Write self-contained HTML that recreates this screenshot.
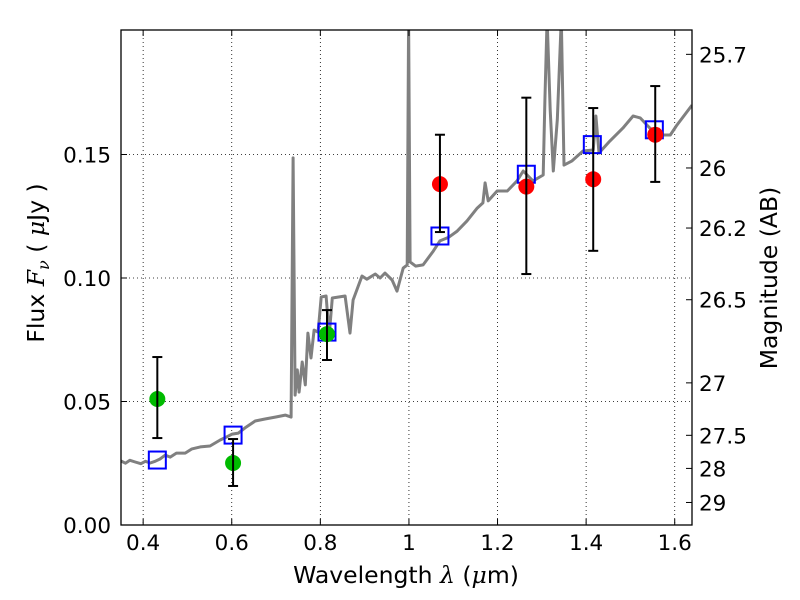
<!DOCTYPE html>
<html><head><meta charset="utf-8"><style>
html,body{margin:0;padding:0;background:#fff;}
svg{display:block;font-family:"DejaVu Sans","Liberation Sans",sans-serif;}
</style></head><body>
<svg id="chart" width="800" height="600" viewBox="0 0 800 600" xmlns="http://www.w3.org/2000/svg"></svg>
<script>
const specLam = [0.350,0.360,0.370,0.382,0.395,0.405,0.416,0.427,0.438,0.450,0.461,0.475,0.495,0.510,0.529,0.551,0.574,0.590,0.601,0.615,0.630,0.653,0.675,0.698,0.721,0.734,0.7386,0.743,0.748,0.752,0.759,0.766,0.772,0.779,0.786,0.795,0.802,0.813,0.820,0.827,0.856,0.867,0.874,0.894,0.905,0.924,0.935,0.946,0.962,0.973,0.987,0.996,0.9993,1.0027,1.015,1.032,1.055,1.070,1.090,1.109,1.131,1.154,1.167,1.172,1.179,1.199,1.222,1.244,1.258,1.280,1.303,1.307,1.312,1.319,1.326,1.335,1.344,1.350,1.368,1.393,1.416,1.422,1.429,1.454,1.483,1.506,1.522,1.544,1.567,1.590,1.605,1.639];
const specFlux = [0.0259,0.0250,0.0262,0.0255,0.0248,0.0258,0.0251,0.0258,0.0267,0.0283,0.0275,0.0291,0.0291,0.0308,0.0316,0.0320,0.0344,0.0358,0.0368,0.0372,0.0393,0.0421,0.0429,0.0437,0.0445,0.0437,0.1486,0.0526,0.0628,0.0538,0.0660,0.0567,0.0777,0.0676,0.0789,0.0781,0.0923,0.0927,0.0769,0.0919,0.0927,0.0777,0.0911,0.1008,0.0995,0.1016,0.1000,0.1020,0.0992,0.0947,0.1040,0.1053,0.205,0.1065,0.1048,0.1053,0.1109,0.1150,0.1165,0.1190,0.1231,0.1283,0.1304,0.1385,0.1312,0.1352,0.1352,0.1393,0.1433,0.1393,0.1417,0.172,0.205,0.168,0.1433,0.164,0.205,0.1457,0.1474,0.1514,0.1518,0.1656,0.1506,0.1555,0.1607,0.1656,0.1648,0.1607,0.1579,0.1579,0.1619,0.170];
const modelLam = [0.432,0.603,0.815,1.070,1.265,1.414,1.554];
const modelFlux = [0.0263,0.0364,0.0781,0.117,0.142,0.154,0.160];
const greenLam = [0.432,0.603,0.815];
const greenFlux = [0.0510,0.0251,0.0773];
const greenHi = [0.068,0.0348,0.087];
const greenLo = [0.0352,0.0158,0.0668];
const redLam = [1.070,1.265,1.416,1.556];
const redFlux = [0.138,0.137,0.140,0.158];
const redHi = [0.158,0.173,0.1688,0.1777];
const redLo = [0.1186,0.1016,0.111,0.1389];
const xTicks = [0.4,0.6,0.8,1.0,1.2,1.4,1.6];
const xTickLabels = ["0.4","0.6","0.8","1","1.2","1.4","1.6"];
const yTicks = [0,0.05,0.10,0.15];
const yTickLabels = ["0.00","0.05","0.10","0.15"];
const magTicks = [25.7,26,26.2,26.5,27,27.5,28,29];
const magTickLabels = ["25.7","26","26.2","26.5","27","27.5","28","29"];

const L=121,R=692,T=30,B=525;
const xMin=0.35,xMax=1.639,yMin=0,yMax=0.2004;
const X=v=>L+(v-xMin)/(xMax-xMin)*(R-L);
const Y=v=>B-(v-yMin)/(yMax-yMin)*(B-T);
const NS="http://www.w3.org/2000/svg";
const svg=document.getElementById('chart');
function mk(tag,attrs,parent){const e=document.createElementNS(NS,tag);for(const k in attrs)e.setAttribute(k,attrs[k]);(parent||svg).appendChild(e);return e;}

const defs=mk('defs',{});
const cp=mk('clipPath',{id:'clip'},defs);
mk('rect',{x:L,y:T,width:R-L,height:B-T},cp);

const grid=mk('g',{});


xTicks.forEach(v=>{mk('line',{x1:X(v),x2:X(v),y1:T,y2:B,stroke:'#000','stroke-width':0.8,'stroke-dasharray':'1,3'},grid);});
yTicks.forEach(v=>{mk('line',{x1:L,x2:R,y1:Y(v),y2:Y(v),stroke:'#000','stroke-width':0.8,'stroke-dasharray':'1,3'},grid);});

let d='';specLam.forEach((l,i)=>{d+=(i?'L':'M')+X(l).toFixed(1)+','+Y(specFlux[i]).toFixed(1);});
const spec=mk('path',{d:d,fill:'none',stroke:'#808080','stroke-width':3,'clip-path':'url(#clip)','stroke-linejoin':'round'});



modelLam.forEach((l,i)=>{
  const r=mk('rect',{x:X(l)-8.5,y:Y(modelFlux[i])-8.5,width:17,height:17,fill:'none',stroke:'#0000ff','stroke-width':2});
  
  
});
function errbar(l,lo,hi){
  const g=mk('g',{stroke:'#000','stroke-width':2});
  
  
  mk('line',{x1:X(l),x2:X(l),y1:Y(lo),y2:Y(hi)},g);
  mk('line',{x1:X(l)-5,x2:X(l)+5,y1:Y(lo),y2:Y(lo)},g);
  mk('line',{x1:X(l)-5,x2:X(l)+5,y1:Y(hi),y2:Y(hi)},g);
}
greenLam.forEach((l,i)=>{
  const c=mk('circle',{cx:X(l),cy:Y(greenFlux[i]),r:8,fill:'#00bb00'});
  
  
  errbar(l,greenLo[i],greenHi[i]);
});
redLam.forEach((l,i)=>{
  const c=mk('circle',{cx:X(l),cy:Y(redFlux[i]),r:8,fill:'#ff0000'});
  
  
  errbar(l,redLo[i],redHi[i]);
});

const frame=mk('rect',{x:L,y:T,width:R-L,height:B-T,fill:'none',stroke:'#000','stroke-width':1.3});



xTicks.forEach((v,i)=>{
  mk('line',{x1:X(v),x2:X(v),y1:B,y2:B-6,stroke:'#000'});
  mk('line',{x1:X(v),x2:X(v),y1:T,y2:T+6,stroke:'#000'});
  const t=mk('text',{x:X(v),y:B+25,'font-size':21.5,'text-anchor':'middle'});
  t.textContent=xTickLabels[i];
  
  
});
yTicks.forEach((v,i)=>{
  mk('line',{x1:L,x2:L+6,y1:Y(v),y2:Y(v),stroke:'#000'});
  const t=mk('text',{x:111,y:Y(v)+8,'font-size':21.5,'text-anchor':'end'});
  t.textContent=yTickLabels[i];
  
  
});
magTicks.forEach((m,i)=>{
  const f=Math.pow(10,-0.4*(m-23.9));
  mk('line',{x1:R,x2:R-6,y1:Y(f),y2:Y(f),stroke:'#000'});
  const t=mk('text',{x:699,y:Y(f)+8,'font-size':21.5,'text-anchor':'start'});
  t.textContent=magTickLabels[i];
  
  
});
</script>
<svg style="position:absolute;left:0;top:0" width="800" height="600">
<text x="406" y="583" font-size="23.5" text-anchor="middle" font-family="DejaVu Sans, sans-serif">Wavelength  <tspan font-style="italic" font-family="DejaVu Serif, serif">λ</tspan> (<tspan font-style="italic" font-family="DejaVu Serif, serif">μ</tspan>m)</text>
<text transform="translate(44,263) rotate(-90)" font-size="23.5" text-anchor="middle" font-family="DejaVu Sans, sans-serif">Flux  <tspan font-style="italic" font-family="DejaVu Serif, serif">F<tspan font-size="16" dy="5">ν</tspan></tspan><tspan dy="-5">  (  </tspan><tspan font-style="italic" font-family="DejaVu Serif, serif">μ</tspan>Jy )</text>
<text transform="translate(777,278) rotate(-90)" font-size="23.5" text-anchor="middle" font-family="DejaVu Sans, sans-serif">Magnitude (AB)</text>
</svg>
</body></html>
